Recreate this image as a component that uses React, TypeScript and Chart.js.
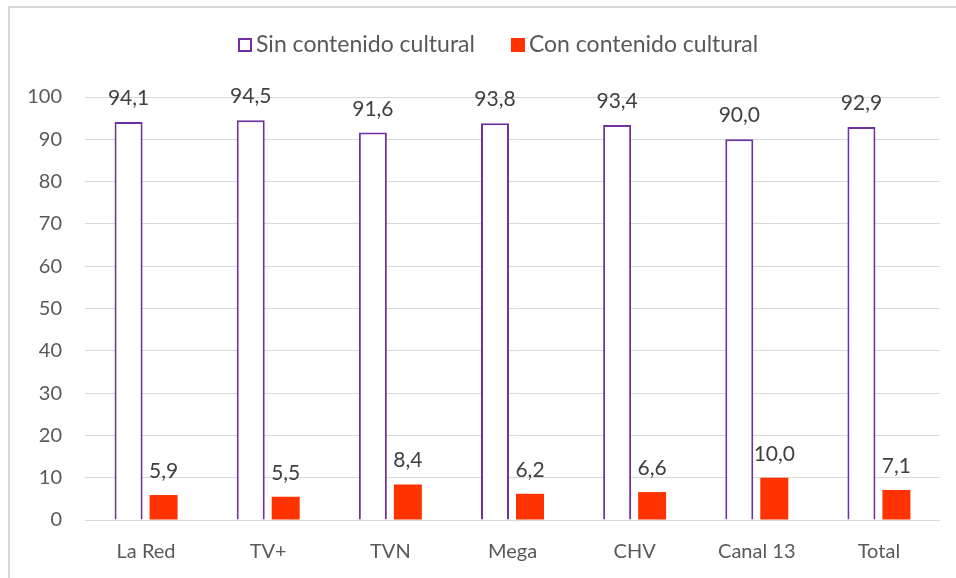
import React, { useEffect, useRef } from "react";
import { Chart, registerables } from "chart.js";

Chart.register(...registerables);

const categories = ["La Red", "TV+", "TVN", "Mega", "CHV", "Canal 13", "Total"];
const sinContenido = [94.1, 94.5, 91.6, 93.8, 93.4, 90.0, 92.9];
const conContenido = [5.9, 5.5, 8.4, 6.2, 6.6, 10.0, 7.1];
const seriesNames = ["Sin contenido cultural", "Con contenido cultural"];
const yTicks = [0, 10, 20, 30, 40, 50, 60, 70, 80, 90, 100];

const PURPLE = "#7030A0";
const RED = "#FF3300";
const FONT = "Lato, 'Open Sans', sans-serif";

const fmt = (v: number) => v.toFixed(1).replace(".", ",");

const labelsPlugin = {
  id: "valueLabels",
  afterDatasetsDraw(chart: any) {
    const ctx = chart.ctx;
    ctx.save();
    ctx.font = `21px ${FONT}`;
    ctx.fillStyle = "#404040";
    ctx.textAlign = "center";
    ctx.textBaseline = "alphabetic";
    chart.data.datasets.forEach((ds: any, di: number) => {
      const meta = chart.getDatasetMeta(di);
      meta.data.forEach((bar: any, i: number) => {
        ctx.fillText(fmt(ds.data[i]), bar.x, bar.y - 17);
      });
    });
    ctx.restore();
  },
};

const legendPlugin = {
  id: "customLegend",
  afterDraw(chart: any) {
    const ctx = chart.ctx;
    ctx.save();
    ctx.font = `23px ${FONT}`;
    ctx.textBaseline = "middle";
    ctx.textAlign = "left";
    const y = 45;
    let x = 238;
    chart.data.datasets.forEach((ds: any, di: number) => {
      if (di === 0) {
        ctx.fillStyle = "#ffffff";
        ctx.fillRect(x, y - 7, 14, 14);
        ctx.strokeStyle = ds.borderColor;
        ctx.lineWidth = 2;
        ctx.strokeRect(x + 1, y - 6, 12, 12);
      } else {
        ctx.fillStyle = ds.backgroundColor;
        ctx.fillRect(x, y - 7, 14, 14);
      }
      ctx.fillStyle = "#595959";
      ctx.fillText(ds.label, x + 18, y);
      x += 18 + ctx.measureText(ds.label).width + 36;
    });
    ctx.restore();
  },
};

export default function App() {
  const canvasRef = useRef<HTMLCanvasElement | null>(null);

  useEffect(() => {
    document.body.style.overflow = "hidden";
    const chart = new Chart(canvasRef.current as HTMLCanvasElement, {
      type: "bar",
      data: {
        labels: categories,
        datasets: [
          {
            label: seriesNames[0],
            data: sinContenido,
            backgroundColor: "#ffffff",
            borderColor: PURPLE,
            borderWidth: 2,
            categoryPercentage: 0.573,
            barPercentage: 0.8,
          },
          {
            label: seriesNames[1],
            data: conContenido,
            backgroundColor: RED,
            borderWidth: 0,
            categoryPercentage: 0.573,
            barPercentage: 0.8,
          },
        ],
      },
      options: {
        animation: false,
        responsive: false,
        devicePixelRatio: 1,
        layout: { padding: { top: 97, right: 16, left: 0, bottom: 0 } },
        plugins: {
          legend: { display: false },
          tooltip: { enabled: false },
        },
        scales: {
          x: {
            grid: { display: false, drawTicks: false },
            border: { display: false },
            ticks: {
              color: "#595959",
              font: { family: FONT, size: 20 },
              padding: 20,
            },
            afterFit(scale: any) {
              scale.height = 58;
            },
          },
          y: {
            min: 0,
            max: 100,
            afterBuildTicks(scale: any) {
              scale.ticks = yTicks.map((v) => ({ value: v }));
            },
            grid: { color: "#d9d9d9", lineWidth: 1, drawTicks: false },
            border: { display: false },
            ticks: {
              color: "#595959",
              font: { family: FONT, size: 20 },
              padding: 23,
            },
            afterFit(scale: any) {
              scale.width = 85;
            },
          },
        },
      },
      plugins: [labelsPlugin, legendPlugin],
    });
    return () => chart.destroy();
  }, []);

  return (
    <div style={{ position: "fixed", left: 0, top: 0, width: 956, height: 578, background: "#fff" }}>
      <canvas ref={canvasRef} width={956} height={578} style={{ position: "absolute", left: 0, top: 0 }} />
      <div
        style={{
          position: "absolute",
          left: 8,
          top: 6,
          width: 1000,
          height: 1000,
          borderLeft: "2px solid #d9d9d9",
          borderTop: "2px solid #d9d9d9",
          pointerEvents: "none",
        }}
      />
    </div>
  );
}
